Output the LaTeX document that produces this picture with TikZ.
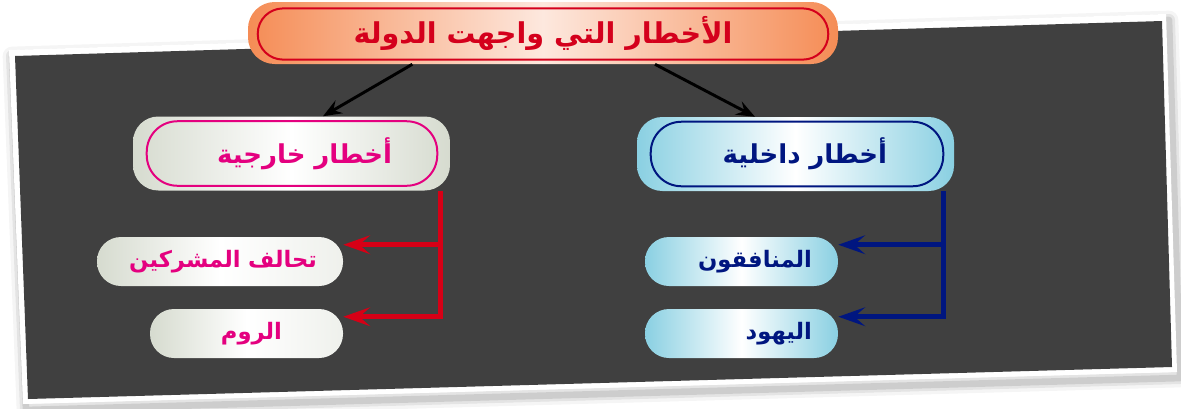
\documentclass[tikz,border=0pt]{standalone}
\usepackage{fontspec}
\usepackage{xcolor}
\usepackage{tikz}
\usetikzlibrary{positioning,arrows.meta}
\TeXXeTstate=1
\newfontfamily\arabicfont[Script=Arabic]{DejaVu Sans}

\definecolor{bgdark}{RGB}{64,64,64}
\definecolor{titleedge}{RGB}{245,140,85}
\definecolor{titlemid}{RGB}{253,232,222}
\definecolor{titlered}{RGB}{212,0,28}
\definecolor{extpink}{RGB}{228,0,127}
\definecolor{extedge}{RGB}{214,219,207}
\definecolor{intnavy}{RGB}{0,22,128}
\definecolor{intedge}{RGB}{138,208,226}
\definecolor{arrred}{RGB}{214,0,22}

\tikzset{
  headbox/.style={rounded corners=20pt, left color=titleedge, right color=titleedge, middle color=titlemid,
    minimum width=442.5pt, minimum height=46.5pt, inner sep=0pt, text=titlered,
    font=\arabicfont\bfseries\fontsize{21.5}{24}\selectfont},
  extbox/.style={rounded corners=19pt, left color=extedge, right color=extedge, middle color=white,
    minimum width=237.75pt, minimum height=55.5pt, inner sep=0pt, align=right, text=extpink,
    font=\arabicfont\bfseries\fontsize{19.5}{22}\selectfont},
  intbox/.style={extbox, left color=intedge, right color=intedge, middle color=white, text=intnavy},
  extsub/.style={rounded corners=18pt, left color=extedge, right color=extedge!40, middle color=white,
    minimum height=36.75pt, inner sep=0pt, align=right, text=extpink,
    font=\arabicfont\bfseries\fontsize{17}{20}\selectfont},
  intsub/.style={extsub, left color=intedge, right color=intedge, middle color=white, text=intnavy},
  frame/.style={line width=1.5pt, rounded corners=23pt},
  arrow/.style={-{Stealth[length=14pt, width=11pt, inset=5pt]}, line width=2.2pt, black},
  redarrow/.style={-{Stealth[length=20pt, width=14pt, inset=8pt]}, line width=3.8pt, arrred},
  navyarrow/.style={redarrow, intnavy}
}

\begin{document}
\begin{tikzpicture}[x=0.75pt, y=-0.75pt]
  \useasboundingbox (0,0) rectangle (1181,408);

  % sfondo
  \foreach \w/\o in {14pt/0.04, 9pt/0.07, 5pt/0.1}
    \draw[line width=\w, black, opacity=\o, line join=round] (12,56) -- (1169,20) -- (1180,378) -- (26,410) -- cycle;
  \fill[white] (9,50) -- (1166,14) -- (1177,372) -- (23,404) -- cycle;
  \fill[bgdark] (15,56) -- (1162,21) -- (1172,367) -- (28,399) -- cycle;

  \node (head) [headbox] at (543,33) {\beginR الأخطار التي واجهت الدولة\endR};
  \node (ext) [extbox, text width=150.75pt] at (291.5,153.5) {\beginR أخطار خارجية\endR};
  \node (int) [intbox, text width=137.25pt] at (795.5,154) {\beginR أخطار داخلية\endR};

  \node (ext1) [extsub, minimum width=184.5pt, text width=145.5pt] at (220,261.5) {\beginR تحالف المشركين\endR};
  \node (ext2) [extsub, minimum width=144.75pt, text width=53.25pt] at (246.5,333.5) {\beginR الروم\endR};
  \node (int1) [intsub, minimum width=144.75pt, text width=105.75pt] at (741.5,261.5) {\beginR المنافقون\endR};
  \node (int2) [intsub, minimum width=144.75pt, text width=105.75pt] at (741.5,333.5) {\beginR اليهود\endR};

  % cornici interne
  \draw[frame, titlered, rounded corners=19pt] ([shift={(7.5pt,3.5pt)}]head.south west) rectangle ([shift={(-7.5pt,-5pt)}]head.north east);
  \draw[frame, extpink] ([shift={(10.5pt,3.75pt)}]ext.south west) rectangle ([shift={(-9.75pt,-3.75pt)}]ext.north east);
  \draw[frame, intnavy] ([shift={(10.5pt,3.75pt)}]int.south west) rectangle ([shift={(-8.25pt,-3.75pt)}]int.north east);

  \draw[arrow] ([xshift=-98pt]head.south) -- ([xshift=23.6pt]ext.north);
  \draw[arrow] ([xshift=84pt]head.south) -- ([xshift=-30.4pt]int.north);

  \coordinate (rj) at ([xshift=-7.5pt]ext.south east);
  \coordinate (r1) at ([yshift=-6pt]ext1.north east);
  \coordinate (r2) at ([yshift=-6pt]ext2.north east);
  \draw[redarrow] (rj) |- (r2);
  \draw[redarrow] (r1 -| rj) -- (r1);

  \coordinate (nj) at ([xshift=-8.25pt]int.south east);
  \coordinate (n1) at ([yshift=-6pt]int1.north east);
  \coordinate (n2) at ([yshift=-6pt]int2.north east);
  \draw[navyarrow] (nj) |- (n2);
  \draw[navyarrow] (n1 -| nj) -- (n1);
\end{tikzpicture}
\end{document}
